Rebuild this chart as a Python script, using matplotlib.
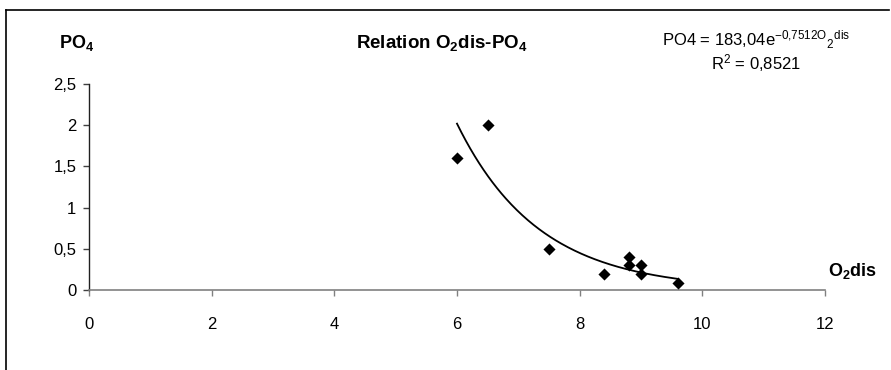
import numpy as np
import matplotlib
matplotlib.use("Agg")
import matplotlib.pyplot as plt
from matplotlib.lines import Line2D

plt.rcParams['font.family'] = ['Liberation Sans', 'DejaVu Sans']
plt.rcParams['mathtext.fontset'] = 'custom'
plt.rcParams['mathtext.rm'] = 'Liberation Sans'
plt.rcParams['mathtext.it'] = 'Liberation Sans'
plt.rcParams['mathtext.bf'] = 'Liberation Sans:bold'

# data
o2dis = [6.0, 6.5, 7.5, 8.4, 8.8, 8.8, 9.0, 9.0, 9.6]
po4 = [1.6, 2.0, 0.5, 0.2, 0.4, 0.3, 0.3, 0.2, 0.08]
fit_a = 183.04
fit_b = 0.7512
x_ticks = [0, 2, 4, 6, 8, 10, 12]
x_ticklabels = ['0', '2', '4', '6', '8', '10', '12']
y_ticks = [0, 0.5, 1, 1.5, 2, 2.5]
y_ticklabels = ['0', '0,5', '1', '1,5', '2', '2,5']

W, H = 891, 370
fig = plt.figure(figsize=(W / 100, H / 100), dpi=100)
ax = fig.add_axes([89 / W, 1 - 290 / H, (825 - 89) / W, (290 - 84) / H])

ax.scatter(o2dis, po4, marker='D', s=38, color='black', zorder=3, linewidths=0)
xf = np.linspace(min(o2dis), max(o2dis), 200)
ax.plot(xf, fit_a * np.exp(-fit_b * xf), color='black', lw=1.3, zorder=2)

ax.set_xlim(0, 12)
ax.set_ylim(0, 2.5)
ax.set_xticks(x_ticks)
ax.set_xticklabels(x_ticklabels)
ax.set_yticks(y_ticks)
ax.set_yticklabels(y_ticklabels)
ax.tick_params(axis='y', direction='out', length=4, width=1, pad=5, labelsize=12, color='#404040')
ax.tick_params(axis='x', direction='out', length=4, width=1, pad=15.5, labelsize=12, color='#808080')
for s in ['top', 'right']:
    ax.spines[s].set_visible(False)
ax.spines['left'].set_color('#202020')
ax.spines['bottom'].set_color('#808080')
ax.spines['left'].set_linewidth(1)
ax.spines['bottom'].set_linewidth(1.2)

# texts
fig.text(59 / W, 1 - 43 / H, r'PO$\mathbf{_4}$', fontsize=13, fontweight='bold', ha='left', va='center')
fig.text(442 / W, 1 - 43 / H, r'Relation O$\mathbf{_2}$dis-PO$\mathbf{_4}$', fontsize=13.5, fontweight='bold', ha='center', va='center')
fig.text(756 / W, 1 - 40 / H, r'PO4 = 183,04e$^{\mathregular{-0{,}7512O}}$$_{\mathregular{2}}$$^{\mathregular{dis}}$',
         fontsize=12, ha='center', va='center')
fig.text(756 / W, 1 - 63 / H, r'R$^{\mathregular{2}}$ = 0,8521', fontsize=12, ha='center', va='center')
fig.text(828 / W, 1 - 271 / H, r'O$\mathbf{_2}$dis', fontsize=13, fontweight='bold', ha='left', va='center')

# frame lines (top and left)
fig.add_artist(Line2D([6 / W, 889 / W], [1 - 10 / H, 1 - 10 / H], color='black', lw=1.2, transform=fig.transFigure))
fig.add_artist(Line2D([6 / W, 6 / W], [1 - 10 / H, 0], color='black', lw=1.2, transform=fig.transFigure))

fig.savefig('out.png', dpi=100)
